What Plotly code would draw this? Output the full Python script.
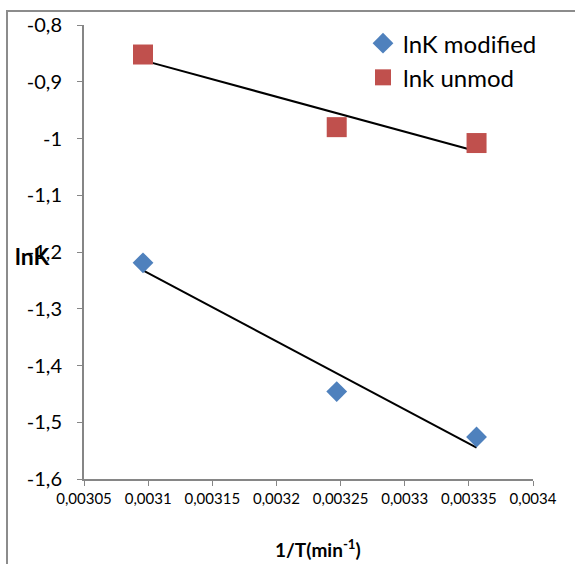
import numpy as np
import plotly.graph_objects as go

inv_T = [0.003096, 0.003247, 0.003356]
lnK_modified = [-1.219, -1.446, -1.526]
lnK_unmod = [-0.852, -0.980, -1.008]

x_ticks = [0.00305, 0.0031, 0.00315, 0.0032, 0.00325, 0.0033, 0.00335, 0.0034]
x_tick_text = ["0,00305", "0,0031", "0,00315", "0,0032", "0,00325", "0,0033", "0,00335", "0,0034"]
y_ticks = [-1.6, -1.5, -1.4, -1.3, -1.2, -1.1, -1.0, -0.9, -0.8]
y_tick_text = ["-1,6", "-1,5", "-1,4", "-1,3", "-1,2", "-1,1", "-1", "-0,9", "-0,8"]

W, H = 575, 564
ML, MR, MT, MB = 84, 42, 21, 85
PW, PH = W - ML - MR, H - MT - MB


def px_x(p):
    return (p - ML) / PW


def px_y(p):
    return (H - MB - p) / PH


fig = go.Figure()

for ys in (lnK_modified, lnK_unmod):
    k, b = np.polyfit(inv_T, ys, 1)
    xs = [min(inv_T), max(inv_T)]
    fig.add_trace(go.Scatter(x=xs, y=[k * v + b for v in xs], mode="lines",
                             line=dict(color="black", width=2), showlegend=False,
                             hoverinfo="skip"))

fig.add_trace(go.Scatter(x=inv_T, y=lnK_modified, mode="markers", name="lnK modified",
                         legendgroup="a",
                         marker=dict(symbol="diamond", size=16, color="#4F81BD")))
fig.add_trace(go.Scatter(x=inv_T, y=lnK_unmod, mode="markers", name="lnk unmod",
                         legendgroup="b",
                         marker=dict(symbol="square", size=20, color="#C0504D")))

axis_common = dict(showgrid=False, zeroline=False, showline=True, linecolor="#868686",
                   linewidth=2, ticks="outside", ticklen=5, tickcolor="#868686", tickwidth=1)

fig.update_xaxes(range=[0.00305, 0.0034], tickvals=x_ticks, ticktext=x_tick_text,
                 tickfont=dict(family="Lato", size=15, color="black"), **axis_common)
fig.update_yaxes(range=[-1.6, -0.8], tickvals=y_ticks, ticktext=y_tick_text,
                 tickfont=dict(family="Lato", size=20, color="black"), ticklabelstandoff=11,
                 **axis_common)

fig.add_annotation(text="<b>lnK</b>", xref="paper", yref="paper", x=px_x(32), y=px_y(254),
                   xanchor="center", yanchor="middle",
                   showarrow=False, font=dict(family="Lato", size=23, color="black"))
fig.add_annotation(text="<b>1/T(min<sup>-1</sup>)</b>", xref="paper", yref="paper",
                   x=px_x(318), y=px_y(549), xanchor="center", yanchor="middle",
                   showarrow=False, font=dict(family="Lato", size=19, color="black"))

fig.add_shape(type="rect", xref="paper", yref="paper", x0=px_x(7), x1=px_x(620),
              y0=px_y(620), y1=px_y(7), line=dict(color="#8C8C8C", width=2), layer="below")

fig.update_layout(
    width=W, height=H, margin=dict(l=ML, r=MR, t=MT, b=MB),
    paper_bgcolor="white", plot_bgcolor="white",
    font=dict(family="Lato", color="black"),
    legend=dict(x=px_x(363), y=px_y(17), xanchor="left", yanchor="top",
                font=dict(family="Lato", size=24, color="black"),
                bgcolor="rgba(0,0,0,0)", traceorder="grouped", tracegroupgap=0),
)

fig.write_html("out.html")
